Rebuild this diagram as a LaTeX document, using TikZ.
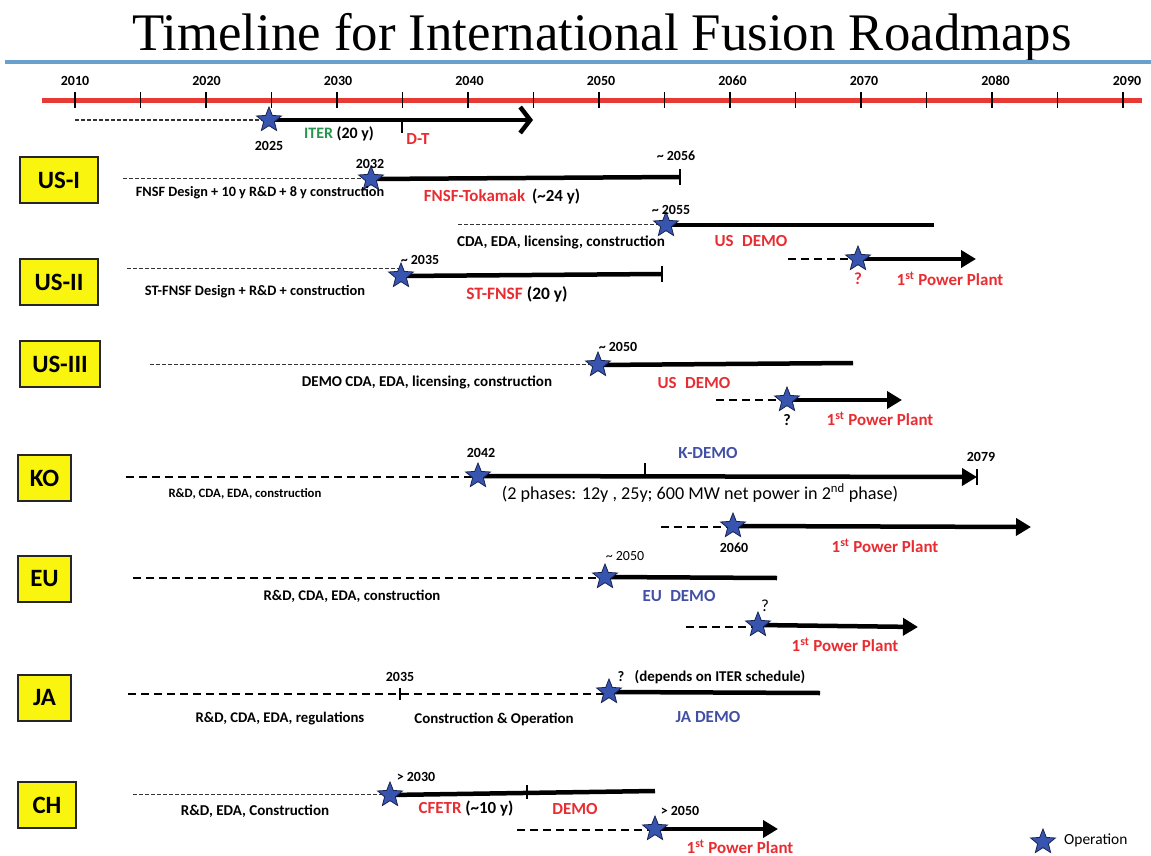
\documentclass[tikz,border=0pt]{standalone}
\usepackage{fontspec}
\setmainfont{Carlito}
\newfontfamily\titlefont{Liberation Serif}
\usetikzlibrary{shapes.geometric,arrows.meta}
\pgfdeclarelayer{bg}
\pgfsetlayers{bg,main}
\definecolor{axred}{RGB}{232,58,52}
\definecolor{topblue}{RGB}{105,160,205}
\definecolor{boxyellow}{RGB}{250,245,15}
\definecolor{starblue}{RGB}{55,85,175}
\definecolor{starline}{RGB}{25,35,80}
\definecolor{lblred}{RGB}{232,45,50}
\definecolor{lblblue}{RGB}{65,80,165}
\definecolor{lblgreen}{RGB}{35,150,75}
\begin{document}
\begin{tikzpicture}[x=1bp,y=-1bp,
  ctry/.style={draw=black!85, line width=1.3bp, fill=boxyellow, font=\fontsize{25}{28}\selectfont\bfseries, minimum height=46bp, inner sep=0pt},
  opstar/.style={star, star points=5, star point ratio=2.3, fill=starblue, draw=starline, line width=0.8bp, minimum size=26bp, inner sep=0pt},
  thindash/.style={dash pattern=on 3.5bp off 2.5bp, line width=1bp, black!80},
  thickdash/.style={dash pattern=on 8bp off 5bp, line width=2.2bp},
  bar/.style={line width=4.5bp},
  parrow/.style={line width=4.5bp, -{Triangle[length=15bp,width=17bp]}},
  endtick/.style={line width=1.2bp},
  txt/.style={font=\fontsize{14.5}{17}\selectfont\bfseries, inner sep=0pt},
  num/.style={font=\fontsize{14}{16}\selectfont\bfseries, inner sep=0pt},
  yr/.style={font=\fontsize{14}{16}\selectfont\bfseries, inner sep=0pt},
  reg/.style={font=\fontsize{15.5}{18}\selectfont, inner sep=0pt},
  rlbl/.style={font=\fontsize{17}{20}\selectfont\bfseries, text=lblred, inner sep=0pt},
  blbl/.style={font=\fontsize{17}{20}\selectfont\bfseries, text=lblblue, inner sep=0pt},
  mixlbl/.style={font=\fontsize{17}{20}\selectfont\bfseries, inner sep=0pt},
]
\useasboundingbox (0,0) rectangle (1151,856);

% title and axis
\node[font=\titlefont\fontsize{53}{60}\selectfont, anchor=base, inner sep=0pt] (title) at (602,50) {Timeline for International Fusion Roadmaps};
\coordinate (blA) at (5,62);
\coordinate (blB) at (1151,62);
\draw[topblue, line width=3.2bp] (blA) -- (blB);
\coordinate (axA) at (42,100);
\coordinate (axB) at (1142,100);
\draw[axred, line width=5bp] (axA) -- (axB);
\foreach \k in {0,...,16} \draw[line width=1.4bp] ({75+65.5*\k},92) -- ({75+65.5*\k},108);
\foreach \y [count=\k from 0] in {2010,2020,...,2090} \node[yr] (yr\y) at ({75+131.5*\k},81) {\y};

% country boxes
\node[ctry, minimum width=78bp] (bUSI) at (59,180) {US-I};
\node[ctry, minimum width=78bp] (bUSII) at (59,282) {US-II};
\node[ctry, minimum width=80bp] (bUSIII) at (60,364) {US-III};
\node[ctry, minimum width=53bp] (bKO) at (44.5,478) {KO};
\node[ctry, minimum width=53bp] (bEU) at (44.5,579) {EU};
\node[ctry, minimum width=53bp] (bJA) at (44.5,698) {JA};
\node[ctry, minimum width=58bp] (bCH) at (47,805) {CH};

% operation stars
\node[opstar] (sITER) at (269,120) {};
\node[opstar] (s1) at (371,179) {};
\node[opstar] (s2) at (666,225) {};
\node[opstar] (s3) at (858,259) {};
\node[opstar] (s4) at (401,276) {};
\node[opstar] (s5) at (598,365) {};
\node[opstar] (s6) at (787,400) {};
\node[opstar] (s7) at (478,476) {};
\node[opstar] (s8) at (733,526) {};
\node[opstar] (s9) at (605,577) {};
\node[opstar] (s10) at (758,625) {};
\node[opstar] (s11) at (609,692) {};
\node[opstar] (s12) at (390,795) {};
\node[opstar] (s13) at (655,829) {};
\node[opstar] (sLeg) at (1043,842) {};

% line end points
\coordinate (iterA) at (75,120);  \coordinate (iterB) at (533,120);
\coordinate (a1) at (123,178);  \coordinate (e1) at (680,177);
\coordinate (a2) at (458,224);  \coordinate (e2) at (934,225);
\coordinate (a3) at (788,259);  \coordinate (e3) at (976,259);
\coordinate (a4) at (127,268);  \coordinate (e4) at (662,274);
\coordinate (a5) at (150,364);  \coordinate (e5) at (853,363);
\coordinate (a6) at (716,400);  \coordinate (e6) at (902,400);
\coordinate (a7) at (126,477);  \coordinate (e7) at (977,477);
\coordinate (a8) at (661,527);  \coordinate (e8) at (1031,527);
\coordinate (a9) at (133,578);  \coordinate (e9) at (777,578);
\coordinate (a10) at (686,627); \coordinate (e10) at (918,627);
\coordinate (a11) at (128,694); \coordinate (e11) at (820,693);
\coordinate (a12) at (133,794); \coordinate (e12) at (655,791);
\coordinate (a13) at (517,830); \coordinate (e13) at (778,829);
\coordinate (tDT) at (402,120);
\coordinate (tKO) at (645,477);
\coordinate (tJA) at (400,694);
\coordinate (tCH) at (527,792);

\begin{pgfonlayer}{bg}
  % ITER
  \draw[thindash, line width=1.3bp] (iterA) -- (iterA -| sITER.center);
  \draw[line width=4.5bp, -{Straight Barb[length=10bp,width=26bp]}] (sITER.center) -- (iterB);
  \draw[endtick] (tDT) -- ++(0,13);
  % US-I
  \draw[thindash] (a1) -- (a1 -| s1.center);
  \draw[bar] (s1.center) -- (e1);
  \draw[endtick] (e1) ++(0,-8) -- ++(0,16);
  \draw[thindash] (a2) -- (a2 -| s2.center);
  \draw[bar] (s2.center) -- (e2);
  \draw[thickdash] (a3) -- (a3 -| s3.center);
  \draw[parrow] (s3.center) -- (e3);
  % US-II
  \draw[thindash] (a4) -- (a4 -| s4.center);
  \draw[bar] (s4.center) -- (e4);
  \draw[endtick] (e4) ++(0,-8) -- ++(0,16);
  % US-III
  \draw[thindash] (a5) -- (a5 -| s5.center);
  \draw[bar] (s5.center) -- (e5);
  \draw[thickdash] (a6) -- (a6 -| s6.center);
  \draw[parrow] (s6.center) -- (e6);
  % KO
  \draw[thickdash] (a7) -- (a7 -| s7.center);
  \draw[parrow] (s7.center) -- (e7);
  \draw[endtick] (e7) ++(0,-8) -- ++(0,16);
  \draw[endtick] (tKO) -- ++(0,-14);
  \draw[thickdash] (a8) -- (a8 -| s8.center);
  \draw[parrow] (s8.center) -- (e8);
  % EU
  \draw[thickdash] (a9) -- (a9 -| s9.center);
  \draw[bar] (s9.center) -- (e9);
  \draw[thickdash] (a10) -- (a10 -| s10.center);
  \draw[parrow] (s10.center) -- (e10);
  % JA
  \draw[thickdash] (a11) -- (a11 -| s11.center);
  \draw[bar] (s11.center) -- (e11);
  \draw[endtick] (tJA) ++(0,-6) -- ++(0,12);
  % CH
  \draw[thindash] (a12) -- (a12 -| s12.center);
  \draw[bar] (s12.center) -- (e12);
  \draw[endtick] (tCH) ++(0,-7) -- ++(0,14);
  \draw[thickdash] (a13) -- (a13 -| s13.center);
  \draw[parrow] (s13.center) -- (e13);
\end{pgfonlayer}

% ITER labels
\node[num] (l2025) at (269,146) {2025};
\node[font=\fontsize{16}{18}\selectfont\bfseries, inner sep=0pt] (lITER) at (339,134) {\textcolor{lblgreen}{ITER} (20 y)};
\node[rlbl] (lDT) at (418,139) {D-T};

% US-I labels
\node[num] (l2032) at (370,164) {2032};
\node[num] (l2056) at (676,156) {\textasciitilde{} 2056};
\node[txt, font=\fontsize{14.3}{17}\selectfont\bfseries] (lFNSFd) at (260,193) {FNSF Design + 10 y R\&D + 8 y construction};
\node[mixlbl] (lFNSF) at (502,197) {\textcolor{lblred}{FNSF-Tokamak}\hspace{7bp}(\textasciitilde24 y)};
\node[num] (l2055) at (671,210) {\textasciitilde{} 2055};
\node[txt, font=\fontsize{15.2}{17}\selectfont\bfseries] (lCDA) at (561,242) {CDA, EDA, licensing, construction};
\node[rlbl] (lUSD1) at (751,241) {US\enspace DEMO};
\node[rlbl] (lQ1) at (858,279) {?};
\node[rlbl] (lPP1) at (950,279) {1\textsuperscript{st} Power Plant};

% US-II labels
\node[num] (l2035a) at (420,260) {\textasciitilde{} 2035};
\node[txt] (lSTd) at (255,292) {ST-FNSF Design + R\&D + construction};
\node[mixlbl, font=\fontsize{17.5}{20}\selectfont\bfseries] (lST) at (517,294) {\textcolor{lblred}{ST-FNSF} (20 y)};

% US-III labels
\node[num] (l2050a) at (618,347) {\textasciitilde{} 2050};
\node[txt, font=\fontsize{15.1}{17}\selectfont\bfseries] (lDEMOc) at (427,382) {DEMO CDA, EDA, licensing, construction};
\node[rlbl] (lUSD2) at (694,383) {US\enspace DEMO};
\node[num, font=\fontsize{16}{18}\selectfont\bfseries] (lQ2) at (787,420) {?};
\node[rlbl] (lPP2) at (880,419) {1\textsuperscript{st} Power Plant};

% KO labels
\node[num] (l2042) at (481,453) {2042};
\node[blbl] (lKD) at (708,453) {K-DEMO};
\node[num] (l2079) at (981,457) {2079};
\node[font=\fontsize{18.2}{21}\selectfont, inner sep=0pt] (lPh) at (700,493) {(2 phases: 12y , 25y; 600 MW net power in 2\textsuperscript{nd} phase)};
\node[txt, font=\fontsize{12.8}{15}\selectfont\bfseries] (lKOc) at (245,494) {R\&D, CDA, EDA, construction};
\node[num] (l2060) at (734,548) {2060};
\node[rlbl] (lPP3) at (885,546) {1\textsuperscript{st} Power Plant};

% EU labels
\node[reg, font=\fontsize{14}{16}\selectfont] (l2050b) at (625,556) {\textasciitilde{} 2050};
\node[txt, font=\fontsize{14.8}{17}\selectfont\bfseries] (lEUc) at (352,596) {R\&D, CDA, EDA, construction};
\node[blbl] (lEUD) at (679,596) {EU\enspace DEMO};
\node[reg, font=\fontsize{17}{19}\selectfont] (lQ3) at (765,606) {?};
\node[rlbl] (lPP4) at (845,645) {1\textsuperscript{st} Power Plant};

% JA labels
\node[num] (l2035b) at (400,677) {2035};
\node[txt] (lQ4) at (621,677) {?};
\node[txt, font=\fontsize{15}{17}\selectfont\bfseries] (lDep) at (720,677) {(depends on ITER schedule)};
\node[txt, font=\fontsize{14.8}{17}\selectfont\bfseries] (lJAc) at (280,719) {R\&D, CDA, EDA, regulations};
\node[txt, font=\fontsize{15}{17}\selectfont\bfseries] (lJAo) at (494,719) {Construction \& Operation};
\node[blbl] (lJAD) at (708,717) {JA DEMO};

% CH labels
\node[num] (l2030) at (416,777) {> 2030};
\node[txt, font=\fontsize{15.1}{17}\selectfont\bfseries] (lCHc) at (255,811) {R\&D, EDA, Construction};
\node[mixlbl] (lCF) at (466,809) {\textcolor{lblred}{CFETR} (\textasciitilde10 y)};
\node[rlbl] (lCHD) at (575,809) {DEMO};
\node[num] (l2050c) at (680,811) {> 2050};
\node[rlbl] (lPP5) at (740,847) {1\textsuperscript{st} Power Plant};

% legend
\node[reg, anchor=west] (lOp) at (1064,840) {Operation};
\end{tikzpicture}
\end{document}
